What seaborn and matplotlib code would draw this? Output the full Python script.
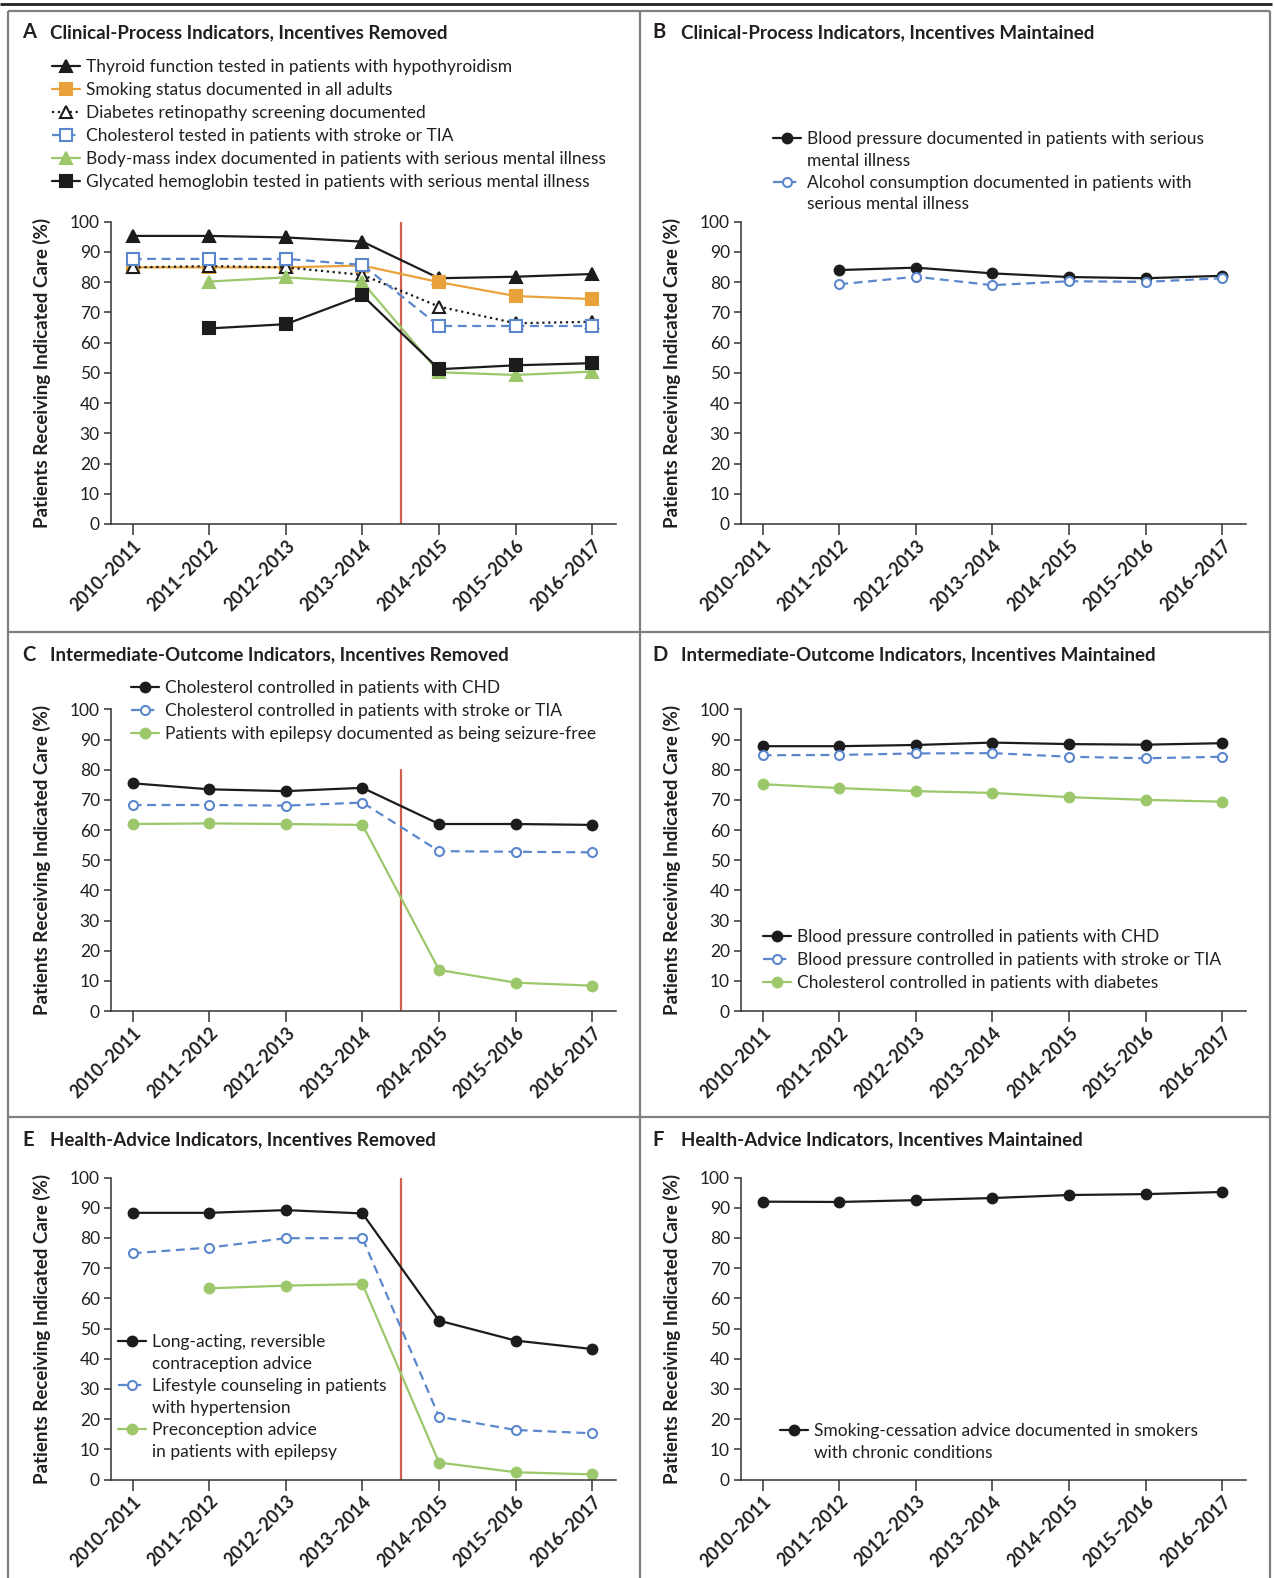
import numpy as np
import pandas as pd
import matplotlib
matplotlib.use("Agg")
import matplotlib.pyplot as plt
import seaborn as sns
from matplotlib.lines import Line2D

# ---------------- data ----------------
years = ["2010–2011", "2011–2012", "2012–2013", "2013–2014",
         "2014–2015", "2015–2016", "2016–2017"]
nan = np.nan

# Panel A
a_thyroid = [95.3, 95.3, 94.8, 93.4, 81.3, 81.8, 82.7]
a_smoking = [84.9, 84.9, 84.9, 85.5, 80.0, 75.4, 74.4]
a_retino = [84.9, 85.3, 84.9, 82.4, 71.9, 66.4, 66.9]
a_chol = [87.7, 87.7, 87.7, 85.7, 65.5, 65.5, 65.5]
a_bmi = [nan, 80.2, 81.6, 80.0, 50.2, 49.3, 50.4]
a_hba1c = [nan, 64.7, 66.1, 75.6, 51.2, 52.5, 53.2]
# Panel B
b_bp = [nan, 84.0, 84.8, 82.9, 81.7, 81.3, 82.1]
b_alcohol = [nan, 79.3, 81.8, 79.0, 80.3, 80.1, 81.3]
# Panel C
c_chd = [75.5, 73.5, 72.9, 74.0, 62.0, 62.0, 61.7]
c_stroke = [68.3, 68.3, 68.1, 69.1, 53.0, 52.8, 52.6]
c_epi = [62.0, 62.2, 62.0, 61.7, 13.6, 9.4, 8.4]
# Panel D
d_bp_chd = [87.8, 87.8, 88.2, 89.0, 88.5, 88.3, 88.8]
d_bp_stroke = [84.8, 84.9, 85.4, 85.5, 84.3, 83.8, 84.3]
d_chol_diab = [75.2, 73.9, 72.9, 72.3, 70.9, 70.0, 69.4]
# Panel E
e_larc = [88.3, 88.3, 89.2, 88.1, 52.6, 46.0, 43.2]
e_life = [74.9, 76.8, 79.9, 79.9, 20.8, 16.4, 15.3]
e_precon = [nan, 63.3, 64.2, 64.7, 5.6, 2.4, 1.7]
# Panel F
f_smoke = [92.0, 91.9, 92.5, 93.2, 94.2, 94.5, 95.2]

titles = ["Clinical-Process Indicators, Incentives Removed",
          "Clinical-Process Indicators, Incentives Maintained",
          "Intermediate-Outcome Indicators, Incentives Removed",
          "Intermediate-Outcome Indicators, Incentives Maintained",
          "Health-Advice Indicators, Incentives Removed",
          "Health-Advice Indicators, Incentives Maintained"]
letters = ["A", "B", "C", "D", "E", "F"]
ylabel = "Patients Receiving Indicated Care (%)"

# ---------------- style ----------------
sns.set_style("ticks")
plt.rcParams["font.family"] = ["Lato", "DejaVu Sans"]
TXT = "#231f20"
plt.rcParams["text.color"] = TXT
plt.rcParams["axes.labelcolor"] = TXT
plt.rcParams["xtick.color"] = "#333333"
plt.rcParams["ytick.color"] = "#333333"
plt.rcParams["xtick.labelcolor"] = TXT
plt.rcParams["ytick.labelcolor"] = TXT

BLACK = "#1c1c1c"
ORANGE = "#E9A23B"
BLUE = "#5B87CC"
GREEN = "#9CC76B"
RED = "#D0604F"
GRAY = "#808080"

W, H = 1274, 1578
fig = plt.figure(figsize=(W / 100, H / 100), dpi=100)


def fx(px):
    return px / W


def fy(py):
    return 1 - py / H


AX_W = (616 - 111) / W
rows = [(524, 221.7), (1011, 709.4), (1479.5, 1177.5)]
cols = [111, 741]
axes = []
for r, (y0, y100) in enumerate(rows):
    for c, xl in enumerate(cols):
        ax = fig.add_axes([fx(xl), fy(y0), AX_W, (y0 - y100) / H])
        axes.append(ax)

x_pos = np.arange(len(years))


def draw(ax, values, color, marker, ls="-", mfc=None, ms=7, lw=1.6, mew=1.5,
         dashes=None):
    df = pd.DataFrame({"x": x_pos, "y": values})
    kw = dict(color=color, marker=marker, linestyle=ls, markersize=ms,
              markerfacecolor=(mfc if mfc is not None else color),
              markeredgecolor=color, markeredgewidth=mew, linewidth=lw)
    sns.lineplot(data=df, x="x", y="y", ax=ax, legend=False, **kw)
    line = ax.lines[-1]
    if dashes is not None:
        line.set_dashes(dashes)
    return line


def style_axis(ax, red_top=None):
    ax.set_xlim(-0.283, 6.31)
    ax.set_ylim(0, 100)
    ax.set_yticks(range(0, 101, 10))
    ax.set_xticks(x_pos)
    ax.set_xticklabels(years, rotation=45, ha="right", va="top",
                       rotation_mode="anchor", fontsize=12.7, fontweight="bold")
    for lab in ax.get_yticklabels():
        lab.set_fontsize(12.5)
    ax.tick_params(axis="y", length=5, width=1.1, pad=3)
    ax.tick_params(axis="x", length=8, width=1.1, pad=1.5)
    for s in ["top", "right"]:
        ax.spines[s].set_visible(False)
    for s in ["left", "bottom"]:
        ax.spines[s].set_linewidth(1.1)
        ax.spines[s].set_color("#333333")
    ax.set_xlabel("")
    ax.set_ylabel(ylabel, fontsize=13.5, fontweight="bold")
    ax.yaxis.set_label_coords(-0.118, 0.5)
    if red_top is not None:
        ax.axvline(3.5, ymin=0, ymax=red_top, color=RED, lw=1.6, zorder=1)


blank = Line2D([], [], color="none")
LEG_FS = 12.5


def legend(ax, handles, labels, x_px, y_px, spacing=0.40):
    leg = ax.legend(handles, labels, loc="upper left",
                    bbox_to_anchor=(fx(x_px), fy(y_px)),
                    bbox_transform=fig.transFigure, frameon=False,
                    borderpad=0, borderaxespad=0, fontsize=LEG_FS,
                    handlelength=1.62, handletextpad=0.35,
                    labelspacing=spacing, numpoints=1)
    for t in leg.get_texts():
        t.set_color(TXT)
    return leg


# ---------------- Panel A ----------------
ax = axes[0]
h1 = draw(ax, a_thyroid, BLACK, "^", ms=9)
h2 = draw(ax, a_smoking, ORANGE, "s", ms=8.5)
h3 = draw(ax, a_retino, BLACK, "^", ls=":", mfc="white", ms=8.5, lw=1.6)
h4 = draw(ax, a_chol, BLUE, "s", mfc="white", ms=8.5, dashes=(4, 2.5))
h5 = draw(ax, a_bmi, GREEN, "^", ms=9)
h6 = draw(ax, a_hba1c, BLACK, "s", ms=8.5)
style_axis(ax, red_top=1.0)
legend(ax, [h1, h2, h3, h4, h5, h6],
       ["Thyroid function tested in patients with hypothyroidism",
        "Smoking status documented in all adults",
        "Diabetes retinopathy screening documented",
        "Cholesterol tested in patients with stroke or TIA",
        "Body-mass index documented in patients with serious mental illness",
        "Glycated hemoglobin tested in patients with serious mental illness"],
       52, 59)

# ---------------- Panel B ----------------
ax = axes[1]
h1 = draw(ax, b_bp, BLACK, "o", ms=7)
h2 = draw(ax, b_alcohol, BLUE, "o", mfc="white", ms=6.5, dashes=(4, 2.5))
style_axis(ax)
legend(ax, [h1, blank, h2, blank],
       ["Blood pressure documented in patients with serious",
        "mental illness",
        "Alcohol consumption documented in patients with",
        "serious mental illness"],
       773, 131, spacing=0.335)

# ---------------- Panel C ----------------
ax = axes[2]
h1 = draw(ax, c_chd, BLACK, "o", ms=7)
h2 = draw(ax, c_stroke, BLUE, "o", mfc="white", ms=6.5, dashes=(4, 2.5))
h3 = draw(ax, c_epi, GREEN, "o", ms=7)
style_axis(ax, red_top=0.8)
legend(ax, [h1, h2, h3],
       ["Cholesterol controlled in patients with CHD",
        "Cholesterol controlled in patients with stroke or TIA",
        "Patients with epilepsy documented as being seizure-free"],
       131, 680)

# ---------------- Panel D ----------------
ax = axes[3]
h1 = draw(ax, d_bp_chd, BLACK, "o", ms=7)
h2 = draw(ax, d_bp_stroke, BLUE, "o", mfc="white", ms=6.5, dashes=(4, 2.5))
h3 = draw(ax, d_chol_diab, GREEN, "o", ms=7)
style_axis(ax)
legend(ax, [h1, h2, h3],
       ["Blood pressure controlled in patients with CHD",
        "Blood pressure controlled in patients with stroke or TIA",
        "Cholesterol controlled in patients with diabetes"],
       763, 929)

# ---------------- Panel E ----------------
ax = axes[4]
h1 = draw(ax, e_larc, BLACK, "o", ms=7)
h2 = draw(ax, e_life, BLUE, "o", mfc="white", ms=6.5, dashes=(4, 2.5))
h3 = draw(ax, e_precon, GREEN, "o", ms=7)
style_axis(ax, red_top=1.0)
legend(ax, [h1, blank, h2, blank, h3, blank],
       ["Long-acting, reversible", "contraception advice",
        "Lifestyle counseling in patients", "with hypertension",
        "Preconception advice", "in patients with epilepsy"],
       118, 1334, spacing=0.34)

# ---------------- Panel F ----------------
ax = axes[5]
h1 = draw(ax, f_smoke, BLACK, "o", ms=7)
style_axis(ax)
legend(ax, [h1, blank],
       ["Smoking-cessation advice documented in smokers",
        "with chronic conditions"],
       780, 1423, spacing=0.335)

# ---------------- titles ----------------
title_y = [32.5, 32.5, 655, 655, 1140, 1140]
letter_x = [22, 652]
text_x = [50, 681]
for i, (L, T) in enumerate(zip(letters, titles)):
    c = i % 2
    fig.text(fx(letter_x[c]), fy(title_y[i]), L, fontsize=14.5,
             fontweight="bold", va="center", ha="left", color=TXT)
    fig.text(fx(text_x[c]), fy(title_y[i]), T, fontsize=13.5,
             fontweight="bold", va="center", ha="left", color=TXT)

# ---------------- frame ----------------
def fline(x0, y0, x1, y1, color=GRAY, lw=1.6):
    fig.add_artist(Line2D([fx(x0), fx(x1)], [fy(y0), fy(y1)],
                          color=color, lw=lw, transform=fig.transFigure,
                          solid_capstyle="butt"))

fline(0, 4, 1272, 4, color="#222222", lw=2.0)
fline(8, 11, 1270, 11)
fline(8, 11, 8, 1578)
fline(1270, 11, 1270, 1578)
fline(640, 11, 640, 1578)
fline(8, 632.5, 1270, 632.5)
fline(8, 1117, 1270, 1117)

fig.savefig("out.png", dpi=100)
